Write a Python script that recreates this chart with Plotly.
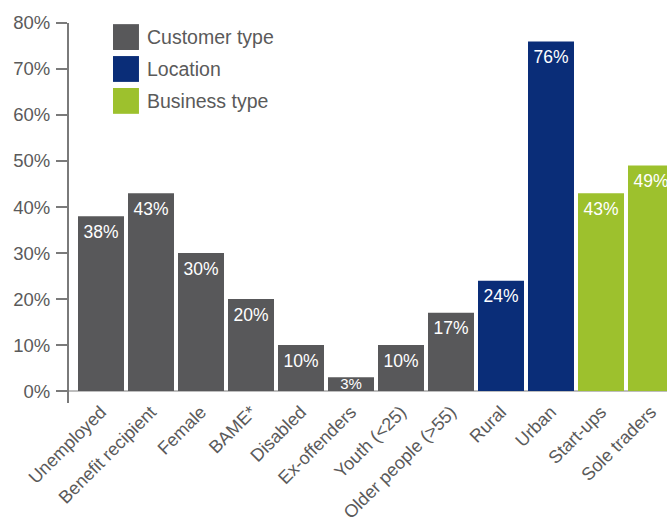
import plotly.graph_objects as go

# Share of supported businesses by category
categories = ["Unemployed", "Benefit recipient", "Female", "BAME*", "Disabled",
              "Ex-offenders", "Youth (<25)", "Older people (>55)", "Rural", "Urban",
              "Start-ups", "Sole traders"]
values = [38, 43, 30, 20, 10, 3, 10, 17, 24, 76, 43, 49]
groups = ["Customer type"] * 8 + ["Location"] * 2 + ["Business type"] * 2

group_names = ["Customer type", "Location", "Business type"]
group_colors = {"Customer type": "#58585a", "Location": "#0a2d78", "Business type": "#9dc12d"}

y_ticks = [0, 10, 20, 30, 40, 50, 60, 70, 80]
y_tick_text = [f"{v}%" for v in y_ticks]

FONT = "Liberation Sans, Arial, sans-serif"
TEXT_GREY = "#5a5a5a"

labels = [f"{v}%" for v in values]
# Short bars get a slightly smaller label set low inside the bar; others hang from the top
SHORT = 6
label_y = [v if v >= SHORT else v * 0.4 for v in values]
label_pos = ["bottom center" if v >= SHORT else "middle center" for v in values]
label_size = [17.5 if v >= SHORT else 15 for v in values]

fig = go.Figure()
fig.add_trace(go.Bar(
    x=categories,
    y=values,
    marker=dict(color=[group_colors[g] for g in groups], line=dict(width=0)),
    showlegend=False,
    hoverinfo="skip",
))
fig.add_trace(go.Scatter(
    x=categories,
    y=label_y,
    mode="markers+text",
    marker=dict(size=12, opacity=0),
    text=labels,
    textposition=label_pos,
    textfont=dict(color="white", size=label_size, family=FONT),
    cliponaxis=True,
    showlegend=False,
    hoverinfo="skip",
))

# Legend: large colour squares with labels in the top-left of the plot
shapes = []
annotations = []
sq_x0, sq_x1 = 0.0736, 0.117
top = 0.997
sq_h = 0.068
step = 0.084
for i, name in enumerate(group_names):
    y1 = top - i * step
    y0 = y1 - sq_h
    shapes.append(dict(type="rect", xref="paper", yref="paper",
                       x0=sq_x0, x1=sq_x1, y0=y0, y1=y1,
                       fillcolor=group_colors[name], line=dict(width=0)))
    annotations.append(dict(xref="paper", yref="paper", x=0.127, y=(y0 + y1) / 2,
                            text=name, showarrow=False, xanchor="left", yanchor="middle",
                            font=dict(size=19.5, color=TEXT_GREY, family=FONT)))

fig.update_layout(
    width=667, height=527,
    margin=dict(l=69, r=0, t=23, b=124),
    paper_bgcolor="white", plot_bgcolor="white",
    bargap=0.08,
    shapes=shapes,
    annotations=annotations,
    font=dict(family=FONT, color=TEXT_GREY),
    xaxis=dict(
        range=[-0.64, 11.32],
        tickangle=-45,
        tickfont=dict(size=18, color=TEXT_GREY, family=FONT),
        ticklabelstandoff=-6,
        showgrid=False, showline=False, ticks="", zeroline=False,
        automargin=False,
        fixedrange=True,
    ),
    yaxis=dict(
        range=[-2.6, 80],
        tickvals=y_ticks, ticktext=y_tick_text,
        tickfont=dict(size=18.5, color=TEXT_GREY, family=FONT),
        ticks="outside", ticklen=11, tickwidth=1.5, tickcolor="#7a7a7a",
        ticklabelstandoff=2,
        showline=True, linecolor="#7a7a7a", linewidth=2,
        showgrid=False,
        zeroline=True, zerolinecolor="#bdbdbd", zerolinewidth=1.5,
        automargin=False,
        fixedrange=True,
    ),
)

fig.write_html("out.html")
